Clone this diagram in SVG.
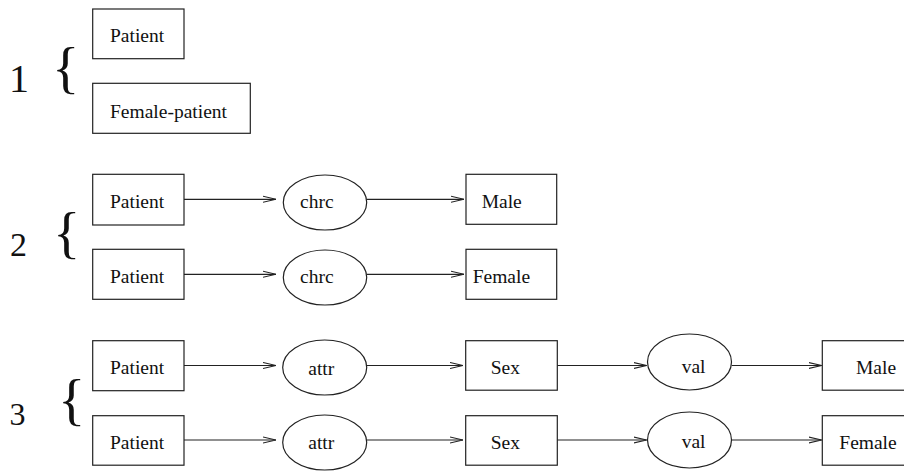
<svg xmlns="http://www.w3.org/2000/svg" width="904" height="471" viewBox="0 0 904 471">
<style>
.box{fill:#fff;stroke:#222;stroke-width:1.2}
.ell{fill:#fff;stroke:#222;stroke-width:1.2}
.lbl{font-family:"Liberation Serif","Times New Roman",serif;font-size:19.5px;fill:#111}
.num{font-family:"Liberation Serif","Times New Roman",serif;fill:#111}
.edge{stroke:#222;stroke-width:1.2;fill:none;marker-end:url(#arr)}
</style>
<defs>
<marker id="arr" viewBox="0 0 13 8" refX="13" refY="4" markerWidth="13" markerHeight="8" markerUnits="userSpaceOnUse" orient="auto">
<path d="M0,1 L13,4 L0,7" fill="none" stroke="#222" stroke-width="1.1"/>
</marker>
</defs>
<rect width="904" height="471" fill="#fff"/>
<g id="labels">
<text class="num" x="9" y="92" font-size="40">1</text>
<text class="num" x="52" y="87" font-size="57">{</text>
<text class="num" x="10" y="256" font-size="34">2</text>
<text class="num" x="53" y="252" font-size="57">{</text>
<text class="num" x="9.5" y="425" font-size="32">3</text>
<text class="num" x="58" y="419" font-size="57">{</text>
</g>
<g id="connectors">
<line class="edge" x1="184" y1="199.3" x2="276" y2="199.3"/>
<line class="edge" x1="366.7" y1="199.3" x2="464" y2="199.3"/>
<line class="edge" x1="184" y1="274.3" x2="276" y2="274.3"/>
<line class="edge" x1="366.7" y1="274.3" x2="464" y2="274.3"/>
<line class="edge" x1="184" y1="365.5" x2="276" y2="365.5"/>
<line class="edge" x1="366.7" y1="365.5" x2="463" y2="365.5"/>
<line class="edge" x1="557" y1="365.5" x2="646.7" y2="365.5"/>
<line class="edge" x1="731.7" y1="365.5" x2="821.7" y2="365.5"/>
<line class="edge" x1="184" y1="440" x2="276" y2="440"/>
<line class="edge" x1="366.7" y1="440" x2="463" y2="440"/>
<line class="edge" x1="557" y1="440" x2="646.7" y2="440"/>
<line class="edge" x1="731.7" y1="440" x2="821.7" y2="440"/>
</g>
<g id="n1a"><rect class="box" x="92.7" y="9" width="91.3" height="49.7"/><text class="lbl" x="110" y="41.7">Patient</text></g>
<g id="n1b"><rect class="box" x="92.7" y="83.3" width="157.6" height="50"/><text class="lbl" x="110" y="117.5">Female-patient</text></g>
<g id="n2a-patient"><rect class="box" x="92.7" y="174.3" width="91.3" height="50.7"/><text class="lbl" x="110" y="207.7">Patient</text></g>
<g id="n2a-chrc"><ellipse class="ell" cx="325" cy="202.5" rx="41.7" ry="27.5"/><text class="lbl" x="300" y="207.7">chrc</text></g>
<g id="n2a-male"><rect class="box" x="466" y="174.3" width="90.7" height="50"/><text class="lbl" x="481.7" y="208.3">Male</text></g>
<g id="n2b-patient"><rect class="box" x="92.7" y="249.3" width="91.3" height="50"/><text class="lbl" x="110" y="282.5">Patient</text></g>
<g id="n2b-chrc"><ellipse class="ell" cx="325" cy="277.5" rx="41.7" ry="27.5"/><text class="lbl" x="300" y="282.5">chrc</text></g>
<g id="n2b-female"><rect class="box" x="466" y="249.3" width="90.7" height="50"/><text class="lbl" x="472.7" y="283.3">Female</text></g>
<g id="n3a-patient"><rect class="box" x="92.7" y="340.7" width="91.3" height="50"/><text class="lbl" x="110" y="374.3">Patient</text></g>
<g id="n3a-attr"><ellipse class="ell" cx="324.7" cy="367.5" rx="42" ry="27.5"/><text class="lbl" x="308.3" y="375">attr</text></g>
<g id="n3a-sex"><rect class="box" x="465.7" y="340.7" width="91.6" height="49.5"/><text class="lbl" x="490.7" y="374.3">Sex</text></g>
<g id="n3a-val"><ellipse class="ell" cx="689.5" cy="362" rx="42" ry="28"/><text class="lbl" x="681.7" y="373.3">val</text></g>
<g id="n3a-male"><rect class="box" x="822.3" y="340.7" width="100" height="49.5"/><text class="lbl" x="856" y="374.3">Male</text></g>
<g id="n3b-patient"><rect class="box" x="92.7" y="415.7" width="91.3" height="49.5"/><text class="lbl" x="110" y="449">Patient</text></g>
<g id="n3b-attr"><ellipse class="ell" cx="324.7" cy="442.5" rx="42" ry="27.5"/><text class="lbl" x="308.3" y="449">attr</text></g>
<g id="n3b-sex"><rect class="box" x="465.7" y="415.7" width="91.6" height="49.5"/><text class="lbl" x="490.7" y="449">Sex</text></g>
<g id="n3b-val"><ellipse class="ell" cx="689.5" cy="440" rx="42" ry="28"/><text class="lbl" x="681.7" y="448.3">val</text></g>
<g id="n3b-female"><rect class="box" x="822.3" y="415.7" width="100" height="49.5"/><text class="lbl" x="839.3" y="449">Female</text></g>
</svg>
